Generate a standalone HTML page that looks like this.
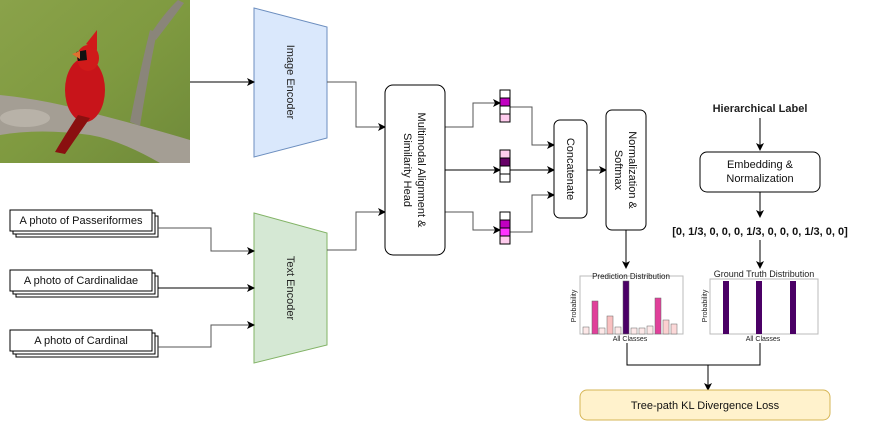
<!DOCTYPE html>
<html><head><meta charset="utf-8"><style>
body{margin:0;background:#fff;width:880px;height:421px;overflow:hidden;font-family:"Liberation Sans",sans-serif}
</style></head><body>
<svg width="880" height="421" xmlns="http://www.w3.org/2000/svg" font-family="Liberation Sans, sans-serif">
<defs>
<marker id="a" markerWidth="8" markerHeight="8" refX="7" refY="4" orient="auto" markerUnits="userSpaceOnUse"><path d="M0,0 L8,4 L0,8 L2,4z" fill="#000"/></marker>
<linearGradient id="bg" x1="0" y1="0" x2="1" y2="1"><stop offset="0" stop-color="#8aa24a"/><stop offset="0.5" stop-color="#7f9a40"/><stop offset="1" stop-color="#6f8a3a"/></linearGradient>
</defs>
<rect x="0" y="0" width="190" height="163" fill="url(#bg)"/>
<path d="M0,95 Q50,100 100,115 Q150,128 190,140 L190,163 L160,163 Q120,140 90,135 Q40,128 0,135z" fill="#a49e94"/>
<path d="M130,122 Q140,70 150,30 L157,32 Q148,75 140,126z" fill="#8a857a"/>
<path d="M150,35 Q165,12 178,0 L184,3 Q170,22 156,40z" fill="#8a857a"/>
<ellipse cx="85" cy="90" rx="20" ry="32" fill="#c8141a"/>
<ellipse cx="88" cy="58" rx="11" ry="13" fill="#d01a1a"/>
<path d="M86,44 L97,30 L97,50z" fill="#d01a1a"/>
<path d="M76,52 L86,50 L87,60 L78,61z" fill="#111"/>
<path d="M72,54 L80,51 L80,59z" fill="#e07030"/>
<path d="M78,115 Q65,135 55,152 L65,154 Q78,135 90,118z" fill="#8a1010"/>
<ellipse cx="25" cy="118" rx="25" ry="9" fill="#b8b2a8"/>
<polygon points="254,8 327,27 327,138 254,157" fill="#dae8fc" stroke="#6c8ebf"/>
<text transform="translate(290,82) rotate(90)" text-anchor="middle" dominant-baseline="middle" font-size="11" fill="#222">Image Encoder</text>
<polygon points="254,213 327,233 327,345 254,363" fill="#d5e8d4" stroke="#82b366"/>
<text transform="translate(290,288) rotate(90)" text-anchor="middle" dominant-baseline="middle" font-size="11" fill="#222">Text Encoder</text>
<g fill="#fff" stroke="#000" stroke-width="1">
<rect x="16" y="216" width="142" height="21"/><rect x="13" y="213" width="142" height="21"/><rect x="10" y="210" width="142" height="21"/>
<rect x="16" y="276" width="142" height="21"/><rect x="13" y="273" width="142" height="21"/><rect x="10" y="270" width="142" height="21"/>
<rect x="16" y="336" width="142" height="21"/><rect x="13" y="333" width="142" height="21"/><rect x="10" y="330" width="142" height="21"/>
</g>
<g font-size="11" text-anchor="middle" fill="#111">
<text x="81" y="224">A photo of Passeriformes</text>
<text x="81" y="284">A photo of Cardinalidae</text>
<text x="81" y="344">A photo of Cardinal</text>
</g>
<g fill="none" stroke="#000" stroke-width="1" marker-end="url(#a)">
<path d="M190,82 H254"/>
<path d="M158,228 H211 V251 H254" stroke="#555"/>
<path d="M158,288 H254"/>
<path d="M158,347 H211 V325 H254" stroke="#555"/>
<path d="M327,82 H356 V127 H385" stroke="#555"/>
<path d="M327,250 H356 V212 H385" stroke="#555"/>
<path d="M445,127 H473 V103 H500" stroke="#555"/>
<path d="M445,170 H500"/>
<path d="M445,212 H473 V230 H500" stroke="#555"/>
<path d="M510,107 H532 V145 H554" stroke="#555"/>
<path d="M510,170 H554"/>
<path d="M510,232 H532 V195 H554" stroke="#555"/>
<path d="M587,170 H606"/>
<path d="M626,230 V268"/>
<path d="M760,118 V150"/>
<path d="M760,192 V217"/>
<path d="M760,240 V268"/>
<path d="M627,343 V365 H760 V343" marker-end="none"/>
<path d="M708,365 V390"/>
</g>
<rect x="385" y="85" width="60" height="170" rx="8" fill="#fff" stroke="#000"/>
<text transform="translate(415,170) rotate(90)" text-anchor="middle" font-size="11" fill="#111"><tspan x="0" y="-3">Multimodal Alignment &amp;</tspan><tspan x="0" y="11">Similarity Head</tspan></text>
<g stroke="#000" stroke-width="1">
<rect x="500" y="90" width="10" height="8" fill="#fff"/><rect x="500" y="98" width="10" height="8" fill="#c000c0"/><rect x="500" y="106" width="10" height="8" fill="#fff"/><rect x="500" y="114" width="10" height="8" fill="#ffccee"/>
<rect x="500" y="150" width="10" height="8" fill="#ffccee"/><rect x="500" y="158" width="10" height="8" fill="#660066"/><rect x="500" y="166" width="10" height="8" fill="#fff"/><rect x="500" y="174" width="10" height="8" fill="#fff"/>
<rect x="500" y="212" width="10" height="8" fill="#fff"/><rect x="500" y="220" width="10" height="8" fill="#c000c0"/><rect x="500" y="228" width="10" height="8" fill="#ff33ff"/><rect x="500" y="236" width="10" height="8" fill="#ffccee"/>
</g>
<rect x="554" y="120" width="33" height="98" rx="6" fill="#fff" stroke="#000"/>
<text transform="translate(570,169) rotate(90)" text-anchor="middle" dominant-baseline="middle" font-size="11" fill="#111">Concatenate</text>
<rect x="606" y="110" width="40" height="120" rx="6" fill="#fff" stroke="#000"/>
<text transform="translate(626,170) rotate(90)" text-anchor="middle" font-size="11" fill="#111"><tspan x="0" y="-3">Normalization &amp;</tspan><tspan x="0" y="11">Softmax</tspan></text>
<text x="760" y="112" text-anchor="middle" font-size="11" font-weight="bold" fill="#222">Hierarchical Label</text>
<rect x="700" y="152" width="120" height="40" rx="7" fill="#fff" stroke="#000"/>
<text x="760" y="168" text-anchor="middle" font-size="11" fill="#111">Embedding &amp;</text>
<text x="760" y="182" text-anchor="middle" font-size="11" fill="#111">Normalization</text>
<text x="760" y="235" text-anchor="middle" font-size="11" font-weight="bold" fill="#111">[0, 1/3, 0, 0, 0, 1/3, 0, 0, 0, 1/3, 0, 0]</text>
<rect x="580" y="276" width="103" height="58" fill="#fff" stroke="#bbb"/>
<g stroke="#666" stroke-width="0.5">
<rect x="583" y="327" width="6" height="7" fill="#fde8e8"/>
<rect x="592" y="301" width="6" height="33" fill="#e0409a"/>
<rect x="599" y="328" width="6" height="6" fill="#fde8e8"/>
<rect x="607" y="316" width="6" height="18" fill="#f9c0c0"/>
<rect x="615" y="327" width="6" height="7" fill="#fde8e8"/>
<rect x="623" y="281" width="6" height="53" fill="#4b0066"/>
<rect x="631" y="328" width="6" height="6" fill="#fde8e8"/>
<rect x="639" y="328" width="6" height="6" fill="#fde8e8"/>
<rect x="647" y="326" width="6" height="8" fill="#fde8e8"/>
<rect x="655" y="298" width="6" height="36" fill="#e0409a"/>
<rect x="663" y="320" width="6" height="14" fill="#fcd0d0"/>
<rect x="671" y="324" width="6" height="10" fill="#fcd8d8"/>
</g>
<text x="631" y="279" text-anchor="middle" font-size="8" fill="#222">Prediction Distribution</text>
<text x="630" y="341" text-anchor="middle" font-size="7" fill="#222">All Classes</text>
<text transform="translate(576,306) rotate(-90)" text-anchor="middle" font-size="7" fill="#222">Probability</text>
<rect x="710" y="279" width="108" height="55" fill="#fff" stroke="#bbb"/>
<g fill="#4b0066"><rect x="723" y="281" width="6" height="53"/><rect x="756" y="281" width="6" height="53"/><rect x="790" y="281" width="6" height="53"/></g>
<text x="764" y="277" text-anchor="middle" font-size="9" fill="#222">Ground Truth Distribution</text>
<text x="763" y="341" text-anchor="middle" font-size="7" fill="#222">All Classes</text>
<text transform="translate(707,306) rotate(-90)" text-anchor="middle" font-size="7" fill="#222">Probability</text>
<rect x="580" y="390" width="250" height="30" rx="7" fill="#fff2cc" stroke="#d6b656"/>
<text x="705" y="409" text-anchor="middle" font-size="11" fill="#111">Tree-path KL Divergence Loss</text>
</svg>
</body></html>
